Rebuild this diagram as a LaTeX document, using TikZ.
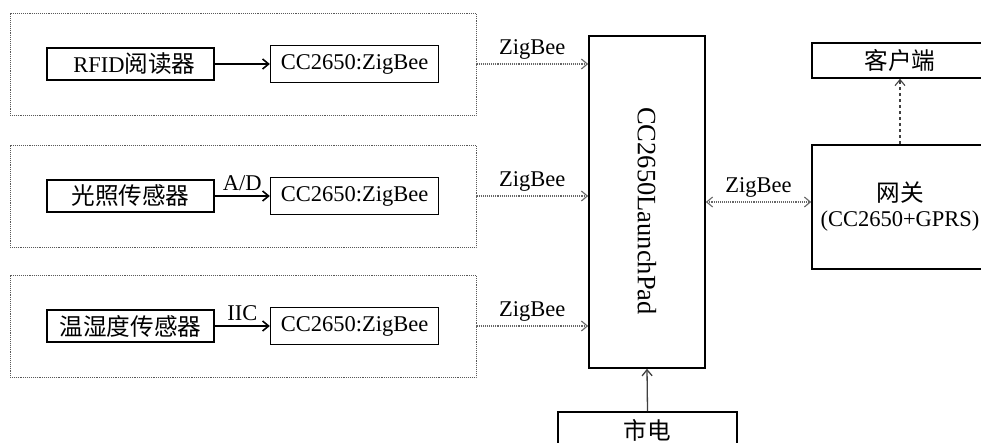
\documentclass[tikz,border=0pt]{standalone}
\usepackage{fontspec}
\setmainfont{Liberation Serif}
\newfontfamily\cjk{Noto Sans CJK SC}[Scale=1.05]
\usetikzlibrary{arrows.meta,positioning}

\begin{document}
\begin{tikzpicture}[
    x=1pt, y=-1pt,
    node distance=55pt,
    barb/.tip={Straight Barb[length=6pt,width=10pt]},
    every node/.style={font=\fontsize{22.5}{25}\selectfont},
    group/.style={
        rectangle, draw=black!65, densely dotted, line width=0.9pt,
        minimum width=466pt, minimum height=102pt
    },
    sensor/.style={
        rectangle, draw=black, line width=1.6pt, inner sep=0pt,
        minimum width=167pt, minimum height=32pt
    },
    zbox/.style={sensor, minimum width=168pt, minimum height=37pt},
    block/.style={
        rectangle, draw=black, line width=1.6pt, inner sep=0pt, align=center
    },
    arrow/.style={-barb, line width=1.6pt},
    zlink/.style={-barb, draw=black!60, densely dotted, line width=1.1pt},
    tag/.style={inner sep=1pt}
]
\useasboundingbox (0,0) rectangle (981,443);

% sensor groups
\node[group] (g1) at (243,64) {};
\node[group] (g2) at (243,196) {};
\node[group] (g3) at (243,326) {};

\node[sensor] (rfid) at (130.5,64) {\hspace*{8pt}RFID{\cjk 阅读器}};
\node[zbox, right=of rfid] (zb1) {CC2650:ZigBee};
\node[sensor] (light) at (130.5,196) {\cjk 光照传感器};
\node[zbox, right=of light] (zb2) {CC2650:ZigBee};
\node[sensor] (temp) at (130.5,326) {\cjk 温湿度传感器};
\node[zbox, right=of temp] (zb3) {CC2650:ZigBee};

% coordinator, gateway, client, power
\node[block, minimum width=116pt, minimum height=332pt] (lp) at (647,202)
    {\fontsize{26.5}{30}\selectfont\rotatebox{-90}{\hspace*{18pt}CC2650LaunchPad}};
\node[block, minimum width=176pt, minimum height=124pt] (gw) at (900,207)
    {{\cjk 网关}\\(CC2650+GPRS)};
\node[block, minimum width=176pt, minimum height=35pt] (cl) at (900,60.5) {\cjk 客户端};
\node[block, minimum width=179pt, minimum height=36pt] (mains) at (647.5,430) {\cjk 市电};

\draw[arrow] (rfid) -- (zb1);
\draw[arrow] (light) -- (zb2) node[midway, above=3pt, tag] {A/D};
\draw[arrow] (temp) -- (zb3) node[midway, above=3pt, tag] {IIC};

\draw[zlink] (g1.east) -- (g1.east -| lp.west) node[midway, above=3pt, tag] {ZigBee};
\draw[zlink] (g2.east) -- (g2.east -| lp.west) node[midway, above=3pt, tag] {ZigBee};
\draw[zlink] (g3.east) -- (g3.east -| lp.west) node[midway, above=3pt, tag] {ZigBee};
\draw[zlink, barb-barb] (lp.east) -- (lp.east -| gw.west) node[midway, above=3pt, tag] {ZigBee};

\draw[-barb, dashed, draw=black!75, line width=1.1pt] (gw.north) -- (cl.south);
\draw[-barb, draw=black!75, line width=1.3pt] (mains.north) -- (lp.south);
\end{tikzpicture}
\end{document}
